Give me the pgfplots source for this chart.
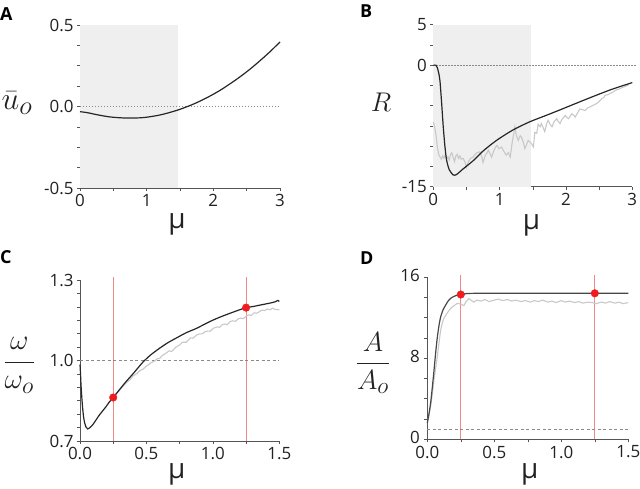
\documentclass[border=0pt]{standalone}
\usepackage{graphicx}
\usepackage{fontspec}
\setmainfont{Open Sans}
\usepackage{pgfplots}
\pgfplotsset{compat=1.18}
\definecolor{axcol}{HTML}{555555}
\definecolor{labcol}{HTML}{222222}
\definecolor{shade}{HTML}{EFEFEF}
\definecolor{curve}{HTML}{262626}
\definecolor{noisy}{HTML}{C8C8C8}
\definecolor{redline}{HTML}{F08A8A}
\definecolor{reddot}{HTML}{EE1C1C}
\definecolor{refline}{HTML}{8A8A8A}
\pgfplotsset{panel/.style={
  scale only axis, axis lines=left,
  axis line style={-, draw=axcol, line width=0.8bp},
  tick style={draw=axcol, line width=0.6bp},
  tick align=outside, major tick length=3bp,
  enlargelimits=false, clip=false,
  tick label style={font=\fontsize{17}{17}\selectfont, text=labcol},
}}
\begin{document}
\begin{tikzpicture}
\path[use as bounding box] (0,0) rectangle (640bp,489bp);
% panel letters
\node[anchor=north west, inner sep=0, font=\bfseries\fontsize{18}{18}\selectfont] at (0bp,482bp) {A};
\node[anchor=north west, inner sep=0, font=\bfseries\fontsize{18}{18}\selectfont] at (360bp,484bp) {B};
\node[anchor=north west, inner sep=0, font=\bfseries\fontsize{18}{18}\selectfont] at (0bp,239bp) {C};
\node[anchor=north west, inner sep=0, font=\bfseries\fontsize{18}{18}\selectfont] at (360bp,237bp) {D};

% ---------------- A
\begin{axis}[panel, at={(80bp,301bp)}, anchor=south west, width=200bp, height=163bp,
  xmin=0, xmax=3, ymin=-0.5, ymax=0.5,
  xtick={0,0.5,1,1.5,2,2.5,3}, xticklabels={0,,1,,2,,3},
  ytick={-0.5,-0.375,-0.25,-0.125,0,0.125,0.25,0.375,0.5}, yticklabels={-0.5,,,,0.0,,,,0.5},
  xlabel={μ}, ylabel={\scalebox{1.28}{$\bar{u}_o$}},
  every axis x label/.style={at={(axis description cs:0.485,-0.25)}, anchor=base, font=\fontsize{28}{28}\selectfont, text=labcol},
  every axis y label/.style={at={(axis description cs:-0.315,0.52)}, anchor=center, inner sep=0pt, font=\fontsize{24.88}{26}\selectfont, text=labcol},
]
\addplot[fill=shade, draw=none] coordinates {(0,-0.5)(1.47,-0.5)(1.47,0.5)(0,0.5)} -- cycle;
\addplot[refline, line width=0.7bp, dash pattern=on 1.2bp off 1.8bp] coordinates {(0,0)(3,0)};
\addplot[curve, line width=1.2bp, smooth] coordinates {
(0,-0.032)(0.1,-0.037)(0.25,-0.05)(0.45,-0.064)(0.7,-0.071)(0.95,-0.068)(1.2,-0.052)(1.45,-0.024)
(1.65,0.006)(1.8,0.033)(1.95,0.064)(2.1,0.099)(2.25,0.139)(2.4,0.182)(2.55,0.229)(2.7,0.281)(2.85,0.336)(3.0,0.396)};
\end{axis}

% ---------------- B
\begin{axis}[panel, at={(433.3bp,302.3bp)}, anchor=south west, width=199bp, height=162bp,
  xmin=0, xmax=3, ymin=-15, ymax=5,
  xtick={0,0.5,1,1.5,2,2.5,3}, xticklabels={0,,1,,2,,3},
  ytick={-15,-12.5,-10,-7.5,-5,-2.5,0,2.5,5}, yticklabels={-15,,,,,,0,,5},
  xlabel={μ}, ylabel={\scalebox{1.09}{$R$}},
  every axis x label/.style={at={(axis description cs:0.494,-0.267)}, anchor=base, font=\fontsize{28}{28}\selectfont, text=labcol},
  every axis y label/.style={at={(axis description cs:-0.263,0.52)}, anchor=center, inner sep=0pt, font=\fontsize{24.88}{26}\selectfont, text=labcol},
]
\addplot[fill=shade, draw=none] coordinates {(0,-15)(1.48,-15)(1.48,5)(0,5)} -- cycle;
\addplot[refline, line width=0.7bp, dash pattern=on 1.2bp off 1.8bp] coordinates {(0,0)(3.05,0)};
\addplot[noisy, line width=1.1bp] coordinates {
(0,-7.0)(0.02,-7.6)(0.04,-8.6)(0.06,-10.0)(0.08,-11.0)(0.1,-11.3)(0.12,-11.6)(0.14,-11.2)(0.16,-11.5)(0.18,-11.0)
(0.2,-11.6)(0.22,-11.3)(0.24,-11.7)(0.26,-11.0)(0.28,-10.8)(0.3,-11.4)(0.32,-11.9)(0.34,-11.2)(0.36,-11.0)(0.38,-11.5)
(0.4,-11.2)(0.42,-11.6)(0.45,-11.5)(0.48,-12.0)(0.5,-12.6)(0.53,-11.9)(0.56,-11.5)(0.6,-11.35)(0.63,-11.0)(0.66,-10.8)
(0.7,-10.7)(0.73,-11.3)(0.75,-12.0)(0.78,-11.2)(0.81,-10.8)(0.83,-10.5)(0.86,-11.0)(0.88,-11.35)(0.91,-10.6)(0.94,-10.1)
(0.96,-9.9)(0.99,-10.3)(1.03,-10.1)(1.06,-10.6)(1.1,-11.1)(1.13,-10.8)(1.16,-11.35)(1.19,-9.5)(1.23,-7.6)(1.25,-8.6)
(1.28,-9.3)(1.31,-8.7)(1.33,-8.9)(1.36,-9.6)(1.38,-10.3)(1.41,-9.7)(1.43,-9.3)(1.46,-9.5)(1.48,-9.7)(1.51,-10.1)
(1.53,-8.3)(1.56,-8.4)(1.58,-7.3)(1.61,-7.6)(1.63,-7.2)(1.66,-7.8)(1.68,-8.2)(1.71,-7.2)(1.73,-6.8)(1.76,-7.3)
(1.79,-7.6)(1.82,-7.0)(1.86,-6.6)(1.88,-6.9)(1.91,-7.2)(1.94,-6.7)(1.99,-6.2)(2.02,-6.5)(2.04,-6.6)(2.07,-6.2)
(2.09,-6.0)(2.12,-6.2)(2.14,-6.4)(2.18,-5.8)(2.21,-5.4)(2.25,-5.5)(2.29,-5.6)(2.32,-5.3)(2.36,-5.16)(2.41,-4.95)
(2.46,-4.74)(2.5,-4.5)(2.54,-4.13)(2.57,-4.0)(2.59,-3.7)(2.63,-3.65)(2.66,-3.5)(2.69,-3.4)(2.72,-3.25)(2.76,-3.05)
(2.8,-2.95)(2.85,-2.75)(2.9,-2.6)(2.95,-2.4)};
\addplot[curve, line width=1.2bp, smooth, tension=0.4] coordinates {
(0,0)(0.04,0)(0.06,-0.3)(0.08,-0.9)(0.1,-1.9)(0.125,-4.6)(0.15,-7.6)(0.175,-10.0)(0.2,-11.7)(0.24,-12.9)
(0.3,-13.55)(0.35,-13.5)(0.45,-12.8)(0.6,-11.8)(0.75,-10.6)(0.95,-9.3)(1.2,-8.0)(1.45,-7.0)(1.7,-6.2)
(1.96,-5.35)(2.2,-4.55)(2.46,-3.7)(2.7,-2.95)(3.0,-2.15)};
\end{axis}

% ---------------- C
\begin{axis}[panel, at={(80bp,48bp)}, anchor=south west, width=199.3bp, height=161bp,
  xmin=0, xmax=1.5, ymin=0.7, ymax=1.3,
  xtick={0,0.25,0.5,0.75,1,1.25,1.5}, xticklabels={0.0,,0.5,,1.0,,1.5},
  ytick={0.7,0.75,0.8,0.85,0.9,0.95,1.0,1.05,1.1,1.15,1.2,1.25,1.3}, yticklabels={0.7,,,,,,1.0,,,,,,1.3},
  xlabel={μ}, ylabel={\scalebox{1.15}{$\displaystyle\frac{\omega}{\omega_o}$}},
  every axis x label/.style={at={(axis description cs:0.485,-0.235)}, anchor=base, font=\fontsize{28}{28}\selectfont, text=labcol},
  every axis y label/.style={at={(axis description cs:-0.305,0.47)}, anchor=center, inner sep=0pt, font=\fontsize{24.88}{26}\selectfont, text=labcol},
]
\addplot[redline, line width=1.1bp] coordinates {(0.25,0.7)(0.25,1.312)};
\addplot[redline, line width=1.1bp] coordinates {(1.25,0.7)(1.25,1.312)};
\addplot[refline, line width=0.9bp, dash pattern=on 3bp off 2.5bp] coordinates {(0,1)(1.5,1)};
\addplot[noisy, line width=1.1bp] coordinates {
(0.25,0.862)(0.3,0.891)(0.35,0.918)(0.38,0.93)(0.4,0.943)(0.43,0.952)(0.45,0.962)(0.472,0.967)(0.5,0.979)(0.52,0.986)
(0.53,0.99)(0.56,0.998)(0.58,1.006)(0.6,1.008)(0.62,1.019)(0.65,1.028)(0.67,1.036)(0.69,1.034)(0.722,1.05)(0.75,1.058)
(0.77,1.068)(0.8,1.068)(0.83,1.084)(0.85,1.083)(0.878,1.095)(0.9,1.099)(0.92,1.099)(0.94,1.107)(0.96,1.11)(0.98,1.109)
(1.003,1.12)(1.03,1.125)(1.05,1.124)(1.07,1.133)(1.09,1.136)(1.11,1.134)(1.129,1.145)(1.15,1.148)(1.17,1.146)(1.19,1.155)
(1.21,1.158)(1.23,1.156)(1.254,1.167)(1.27,1.17)(1.29,1.168)(1.31,1.178)(1.33,1.176)(1.35,1.182)(1.37,1.188)(1.39,1.186)
(1.41,1.192)(1.43,1.189)(1.45,1.195)(1.47,1.19)(1.49,1.19)(1.5,1.188)};
\addplot[curve, line width=1.2bp, smooth, tension=0.4] coordinates {
(0,0.985)(0.004,0.95)(0.008,0.905)(0.014,0.86)(0.02,0.822)(0.027,0.79)(0.034,0.77)(0.045,0.752)(0.058,0.745)(0.075,0.75)
(0.095,0.76)(0.12,0.778)(0.146,0.797)(0.17,0.812)(0.196,0.828)(0.22,0.845)(0.25,0.862)(0.3,0.893)(0.346,0.921)(0.4,0.951)
(0.472,0.993)(0.53,1.02)(0.597,1.045)(0.66,1.066)(0.722,1.083)(0.797,1.103)(0.878,1.12)(0.94,1.136)(1.003,1.151)(1.065,1.164)
(1.129,1.176)(1.19,1.187)(1.25,1.197)(1.3,1.201)(1.35,1.206)(1.4,1.211)(1.44,1.215)(1.47,1.219)(1.49,1.224)(1.5,1.22)};
\addplot[only marks, mark=*, mark size=3.8bp, color=reddot] coordinates {(0.25,0.862)(1.25,1.197)};
\end{axis}

% ---------------- D
\begin{axis}[panel, at={(427.3bp,49.7bp)}, anchor=south west, width=201bp, height=162bp,
  xmin=0, xmax=1.5, ymin=0, ymax=16,
  xtick={0,0.25,0.5,0.75,1,1.25,1.5}, xticklabels={0.0,,0.5,,1.0,,1.5},
  ytick={0,2,4,6,8,10,12,14,16}, yticklabels={0,,,,8,,,,16},
  xlabel={μ}, ylabel={\scalebox{1.12}{$\displaystyle\frac{A}{A_o}$}},
  every axis x label/.style={at={(axis description cs:0.51,-0.24)}, anchor=base, font=\fontsize{28}{28}\selectfont, text=labcol},
  every axis y label/.style={at={(axis description cs:-0.27,0.47)}, anchor=center, inner sep=0pt, font=\fontsize{24.88}{26}\selectfont, text=labcol},
  yticklabel style={xshift=-1bp, yshift=2bp},
]
\addplot[redline, line width=1.1bp] coordinates {(0.25,0)(0.25,16.2)};
\addplot[redline, line width=1.1bp] coordinates {(1.25,0)(1.25,16.2)};
\addplot[refline, line width=0.9bp, dash pattern=on 3bp off 2.5bp] coordinates {(0,1)(1.5,1)};
\addplot[noisy, line width=1.1bp] coordinates {
(0,1.6)(0.012,2.3)(0.025,3.3)(0.038,4.5)(0.05,5.9)(0.062,7.0)(0.075,8.2)(0.088,9.6)(0.1,10.8)(0.112,11.5)
(0.124,11.95)(0.15,12.5)(0.174,12.94)(0.2,13.2)(0.224,13.43)(0.25,13.35)(0.273,13.2)(0.29,13.6)(0.31,13.9)(0.33,13.7)
(0.348,13.55)(0.37,13.75)(0.4,13.65)(0.43,13.8)(0.46,13.6)(0.5,13.75)(0.53,13.85)(0.56,13.7)(0.6,13.8)(0.63,13.65)
(0.66,13.75)(0.7,13.6)(0.73,13.7)(0.77,13.55)(0.8,13.7)(0.83,13.6)(0.86,13.75)(0.9,13.55)(0.93,13.65)(0.96,13.5)
(1.0,13.7)(1.03,13.55)(1.06,13.65)(1.1,13.5)(1.13,13.6)(1.16,13.45)(1.2,13.55)(1.23,13.5)(1.26,13.4)(1.3,13.55)
(1.33,13.45)(1.36,13.6)(1.4,13.45)(1.43,13.55)(1.46,13.4)(1.5,13.5)};
\addplot[curve!85!white, line width=1.2bp, smooth, tension=0.4] coordinates {
(0,1.6)(0.012,2.5)(0.025,3.6)(0.038,5.2)(0.05,6.8)(0.062,8.5)(0.075,10.1)(0.088,11.3)(0.1,12.1)(0.118,12.8)
(0.137,13.26)(0.155,13.65)(0.174,13.92)(0.2,14.12)(0.224,14.25)(0.25,14.32)(0.3,14.4)(0.4,14.42)(0.8,14.42)(1.5,14.42)};
\addplot[only marks, mark=*, mark size=3.8bp, color=reddot] coordinates {(0.25,14.3)(1.25,14.42)};
\end{axis}
\end{tikzpicture}
\end{document}
